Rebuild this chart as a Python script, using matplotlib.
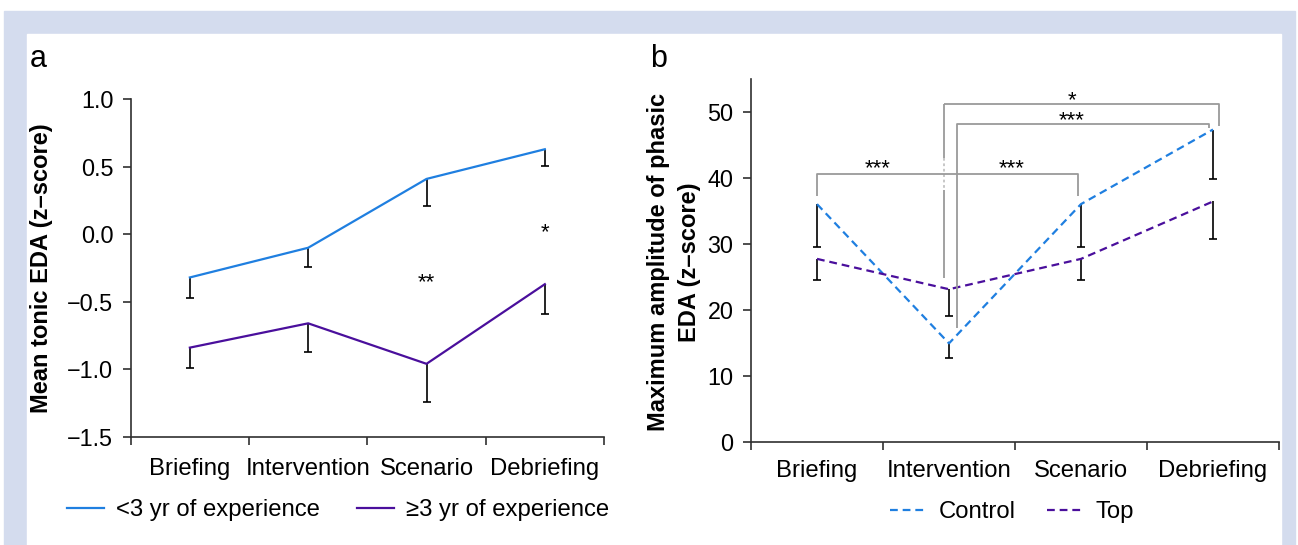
import numpy as np
import matplotlib
matplotlib.use("Agg")
import matplotlib.pyplot as plt
from matplotlib.patches import Rectangle

plt.rcParams["font.family"] = ["Liberation Sans", "DejaVu Sans"]

# Data
phases = ["Briefing", "Intervention", "Scenario", "Debriefing"]

# panel a: mean tonic EDA, one-sided (downward) error bars
tonic_junior = [-0.32, -0.10, 0.41, 0.63]
tonic_junior_err = [0.155, 0.145, 0.20, 0.125]
tonic_senior = [-0.84, -0.66, -0.96, -0.37]
tonic_senior_err = [0.15, 0.21, 0.28, 0.22]

# panel b: maximum amplitude of phasic EDA
phasic_control = [36.0, 14.9, 36.0, 47.3]
phasic_control_err = [6.5, 2.2, 6.5, 7.5]
phasic_top = [27.7, 23.1, 27.7, 36.4]
phasic_top_err = [3.2, 4.1, 3.2, 5.7]

blue = "#1f7fe0"
purple = "#4a0f9c"
bracket_gray = "#9a9a9a"
axis_col = "#303030"
fs = 17.2

W, H = 1298, 545
fig = plt.figure(figsize=(W / 100, H / 100), dpi=100)
fig.patch.set_facecolor("white")


def px_rect(x0, y0, x1, y1, color):
    fig.patches.append(Rectangle((x0 / W, 1 - y1 / H), (x1 - x0) / W, (y1 - y0) / H,
                                 transform=fig.transFigure, color=color, zorder=-10))


px_rect(4, 11, 1295, 545, "#d4dcee")
px_rect(27, 34, 1281, 545, "white")


def axes_px(left, top, right, bottom):
    return fig.add_axes([left / W, 1 - bottom / H, (right - left) / W, (bottom - top) / H])


def style_axes(ax, xpad):
    for s in ["top", "right"]:
        ax.spines[s].set_visible(False)
    for s in ["left", "bottom"]:
        ax.spines[s].set_linewidth(1.2)
        ax.spines[s].set_color(axis_col)
    ax.set_xlim(-0.5, 3.5)
    ax.set_xticks(np.arange(-0.5, 4, 1))
    ax.set_xticklabels([])
    ax.set_xticks(range(4), minor=True)
    ax.set_xticklabels(phases, minor=True, fontsize=fs)
    ax.tick_params(axis="x", which="major", direction="out", length=6, width=1.2, color=axis_col)
    ax.tick_params(axis="x", which="minor", length=0, pad=xpad)
    ax.tick_params(axis="y", direction="out", length=5.5, width=1.2, color=axis_col,
                   labelsize=16.8, pad=7)


def down_bars(ax, x, y, err):
    # error bars drawn only below the mean, cap at the bottom end
    y = np.array(y)
    low = y - np.array(err)
    ax.vlines(x, low, y, color="black", lw=1.2, zorder=1)
    ax.plot(x, low, ls="none", marker="_", ms=6, mew=1.2, color="black", zorder=1)


# ---- panel a
ax1 = axes_px(130.7, 99.3, 604, 436.7)
x = np.arange(len(phases))
ax1.plot(x, tonic_junior, color=blue, lw=1.6, label="<3 yr of experience", zorder=2)
ax1.plot(x, tonic_senior, color=purple, lw=1.6, label="\u22653 yr of experience", zorder=2)
down_bars(ax1, x, tonic_junior, tonic_junior_err)
down_bars(ax1, x, tonic_senior, tonic_senior_err)
ax1.set_ylim(-1.5, 1.0)
ax1.set_yticks([-1.5, -1.0, -0.5, 0.0, 0.5, 1.0])
ax1.set_yticklabels(["\u22121.5", "\u22121.0", "\u22120.5", "0.0", "0.5", "1.0"])
style_axes(ax1, 15)
ax1.text(2, -0.36, "**", ha="center", va="center", fontsize=16)
ax1.text(3, 0.01, "*", ha="center", va="center", fontsize=16)

fig.text(42 / W, 1 - 268 / H, "Mean tonic EDA (z\u2013score)", rotation=90,
         ha="center", va="center", fontsize=17, fontweight="bold")
fig.text(30 / W, 1 - 67 / H, "a", fontsize=22, va="baseline", ha="left")

ax1.legend(loc="center left", bbox_to_anchor=(67 / W, 1 - 510 / H),
           bbox_transform=fig.transFigure, ncol=2, frameon=False, fontsize=fs,
           handlelength=1.55, handletextpad=0.5, columnspacing=1.55,
           borderpad=0, borderaxespad=0)

# ---- panel b
ax2 = axes_px(751, 78.7, 1279, 441.7)
dash = (0, (3.5, 2.2))
ax2.plot(x, phasic_control, color=blue, lw=1.6, ls=dash, label="Control", zorder=2)
ax2.plot(x, phasic_top, color=purple, lw=1.6, ls=dash, label="Top", zorder=2)
down_bars(ax2, x, phasic_control, phasic_control_err)
down_bars(ax2, x, phasic_top, phasic_top_err)
ax2.set_ylim(0, 55)
ax2.set_yticks([0, 10, 20, 30, 40, 50])
style_axes(ax2, 13.5)

# significance brackets
bk = dict(color=bracket_gray, lw=1.3, solid_capstyle="butt")
ax2.plot([0, 0, 1.98, 1.98], [37.3, 40.6, 40.6, 37.3], **bk)
ax2.plot([0.962, 0.962], [51.1, 43.0], **bk)
ax2.plot([0.962, 0.962], [43.0, 38.1], color=bracket_gray, lw=1.3, ls=(0, (1.5, 1.5)), alpha=0.6)
ax2.plot([0.962, 0.962], [38.1, 24.8], **bk)
ax2.plot([0.962, 3.045, 3.045], [51.1, 51.1, 47.9], **bk)
ax2.plot([1.06, 1.06, 2.966, 2.966], [17.3, 48.1, 48.1, 47.6], **bk)
ax2.text(0.462, 41.3, "***", ha="center", va="center", fontsize=16)
ax2.text(1.475, 41.3, "***", ha="center", va="center", fontsize=16)
ax2.text(1.93, 51.6, "*", ha="center", va="center", fontsize=16)
ax2.text(1.93, 48.6, "***", ha="center", va="center", fontsize=16)

fig.text(674 / W, 1 - 262 / H, "Maximum amplitude of phasic\nEDA (z\u2013score)", rotation=90,
         ha="center", va="center", multialignment="center", fontsize=17,
         fontweight="bold", linespacing=1.4)
fig.text(650 / W, 1 - 67 / H, "b", fontsize=22, va="baseline", ha="left")

ax2.legend(loc="center left", bbox_to_anchor=(890 / W, 1 - 512 / H),
           bbox_transform=fig.transFigure, ncol=2, frameon=False, fontsize=fs,
           handlelength=1.5, handletextpad=0.55, columnspacing=1.3,
           borderpad=0, borderaxespad=0)

fig.savefig("out.png", dpi=100)
